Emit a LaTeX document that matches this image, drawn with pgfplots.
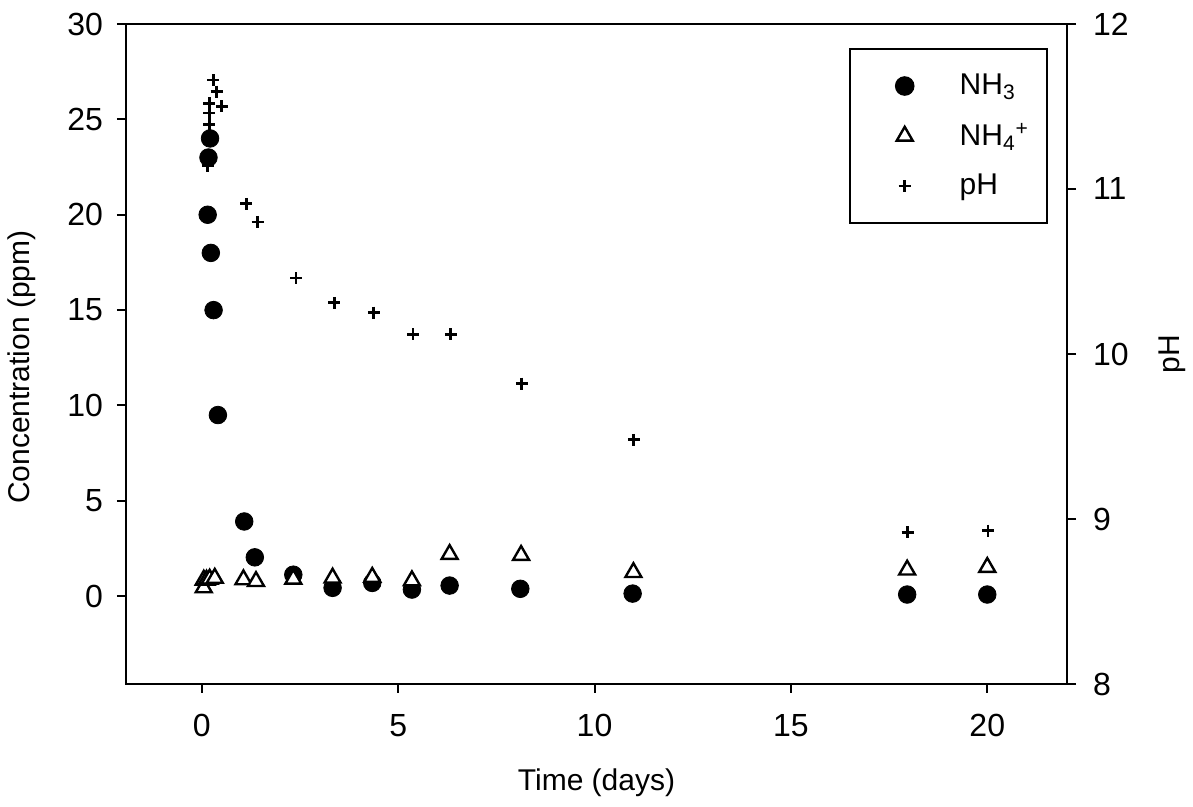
\documentclass[border=0pt]{standalone}
\usepackage{pgfplots}
\pgfplotsset{compat=1.18}
\usepackage{fontspec}
\setmainfont{Liberation Sans}

\begin{document}
\begin{tikzpicture}[font=\fontsize{15}{18}\selectfont]
\useasboundingbox (-63pt,-61.5pt) rectangle (533.5pt,342pt);
\pgfplotsset{
  common/.style={
    scale only axis, width=470.5pt, height=330pt,
    xmin=-1.93, xmax=22.03,
    at={(0pt,0pt)}, anchor=south west,
    tick align=outside, major tick length=4.5pt,
    every tick/.style={line width=1pt, black},
    axis line style={line width=1pt},
    /pgf/number format/assume math mode=true,
    ticklabel style={font=\fontsize{16}{19}\selectfont},
    label style={font=\fontsize{15}{18}\selectfont},
  }
}
\begin{axis}[common,
  ymin=-4.6, ymax=30,
  xtick={0,5,10,15,20}, ytick={0,5,...,30},
  xtick pos=lower, ytick pos=left,
  xticklabel style={yshift=-7pt},
  yticklabel style={xshift=-3.5pt},
  xlabel={Time (days)}, ylabel={Concentration (ppm)},
  xlabel style={at={(axis description cs:0.5,-0.15)}, anchor=center},
  ylabel style={at={(axis description cs:-0.1105,0.48)}, anchor=center},
]
\addplot[only marks, mark=*, mark size=4.4pt, black] coordinates {
(0.21,24.0) (0.17,23.0) (0.15,20.0) (0.23,18.0) (0.30,15.0) (0.41,9.5)
(1.08,3.92) (1.35,2.04) (2.33,1.13) (3.33,0.44) (4.34,0.70) (5.35,0.35)
(6.31,0.56) (8.11,0.39) (10.97,0.14) (17.96,0.09) (20.0,0.09)
};
\addplot[only marks, mark=triangle*, mark size=4.6pt, line width=1.2pt, draw=black, fill=white] coordinates {
(0.05,0.45) (0.05,0.85) (0.12,0.85) (0.20,0.90) (0.33,0.95)
(1.06,0.87) (1.38,0.78) (2.33,0.90) (3.33,0.96) (4.34,1.00) (5.35,0.82)
(6.31,2.20) (8.13,2.15) (10.99,1.25) (17.96,1.38) (20.0,1.52)
};
\end{axis}
\begin{axis}[common,
  axis x line=none, axis y line*=right,
  ymin=8, ymax=12, ytick={8,9,10,11,12},
  yticklabel style={xshift=5pt},
  ylabel={pH},
  ylabel style={at={(axis description cs:1.1116,0.5)}, anchor=center},
  legend cell align=left,
  legend style={at={(0.9798,0.9636)}, anchor=north east, draw=black, line width=1pt,
    inner xsep=9pt, inner ysep=6pt, nodes={inner sep=0pt, draw=none}, column sep=17.5pt, row sep=0pt,
    font=\fontsize{15}{18}\selectfont},
  legend image code/.code={\path[draw=none,fill=none] (-18.5pt,-12.5pt) rectangle (10pt,12.5pt); \draw[#1] plot coordinates {(0pt,0pt)};},
]
\addlegendimage{only marks, mark=*, mark size=4.4pt, black}
\addlegendentry{NH\textsubscript{3}}
\addlegendimage{only marks, mark=triangle*, mark size=4.6pt, line width=1.2pt, draw=black, fill=white}
\addlegendentry{NH\textsubscript{4}\textsuperscript{+}}
\addplot[only marks, mark=+, mark size=3pt, line width=1.4pt, black] coordinates {
(0.15,11.14) (0.19,11.39) (0.19,11.46) (0.19,11.52) (0.51,11.50) (0.38,11.59) (0.29,11.66)
(1.13,10.91) (1.42,10.80) (2.40,10.46) (3.37,10.31) (4.38,10.25) (5.38,10.12) (6.34,10.12)
(8.15,9.82) (11.0,9.48) (17.97,8.92) (20.02,8.93)
};
\addlegendentry{pH}
\end{axis}
\end{tikzpicture}
\end{document}
